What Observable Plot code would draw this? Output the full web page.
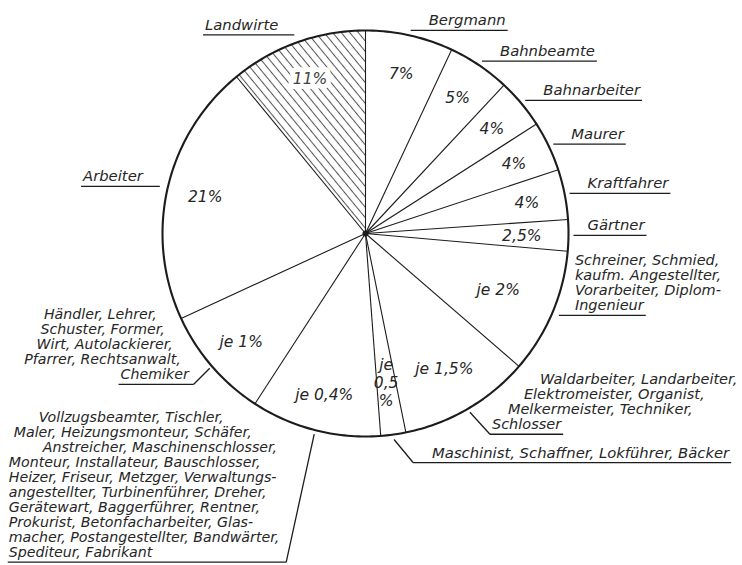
<!DOCTYPE html>
<html>
<head>
<meta charset="utf-8">
<script src="https://cdn.jsdelivr.net/npm/d3@7"></script>
<script src="https://cdn.jsdelivr.net/npm/@observablehq/plot@0.6"></script>
<style>
  html, body { margin: 0; padding: 0; background: #fff; }
  #chart svg { display: block; }
</style>
</head>
<body>
<div id="chart"></div>
<script>
// ---------------- data ----------------
// share (in %) per occupation; groups list several occupations with the same share ("je")
const sharePerPerson = [7, 5, 4, 4, 4, 2.5, 2, 1.5, 0.5, 0.4, 1, 21, 11];
const labelLines = [
  ["Bergmann"],
  ["Bahnbeamte"],
  ["Bahnarbeiter"],
  ["Maurer"],
  ["Kraftfahrer"],
  ["Gärtner"],
  ["Schreiner, Schmied,", "kaufm. Angestellter,", "Vorarbeiter, Diplom-", "Ingenieur"],
  ["Waldarbeiter, Landarbeiter,", "Elektromeister, Organist,", "Melkermeister, Techniker,", "Schlosser"],
  ["Maschinist, Schaffner, Lokführer, Bäcker"],
  ["Vollzugsbeamter, Tischler,", "Maler, Heizungsmonteur, Schäfer,", "Anstreicher, Maschinenschlosser,",
   "Monteur, Installateur, Bauschlosser,", "Heizer, Friseur, Metzger, Verwaltungs-",
   "angestellter, Turbinenführer, Dreher,", "Gerätewart, Baggerführer, Rentner,",
   "Prokurist, Betonfacharbeiter, Glas-", "macher, Postangestellter, Bandwärter,", "Spediteur, Fabrikant"],
  ["Händler, Lehrer,", "Schuster, Former,", "Wirt, Autolackierer,", "Pfarrer, Rechtsanwalt,", "Chemiker"],
  ["Arbeiter"],
  ["Landwirte"]
];
const hatchedCategories = ["Landwirte"];

// ---------------- layout (not data) ----------------
const W = 742, H = 565, CX = 365, CY = 233, R = 203;
const FONT = '"DejaVu Sans", "Liberation Sans", sans-serif';
const INK = "#1c1c1c";
const TXT = "#262626";
const LH = 15;
const callouts = [
  {side: "right", push: 5, pad: 18},
  {side: "right", push: 5, pad: 18},
  {side: "right", push: 5, pad: 18},
  {side: "right", push: 5, pad: 18},
  {side: "right", push: 5, pad: 18},
  {side: "right", push: 5, pad: 14},
  {side: "right", push: 7, pad: 16, fs: 14.5},
  {side: "right", push: 4, lead: [20, 22], pad: 2, stagger: 16, fs: 14.5},
  {side: "right", push: 5, lead: [19, 23], pad: 19, fs: 14.8},
  {side: "left", align: "start", push: 4, lead: [-28, 128], pad: 6, fs: 14.2, indent: [30, 5, 34]},
  {side: "left", push: 3, lead: [-16, 16], pad: 5, stagger: -8, fs: 14.2},
  {side: "left", push: 8, pad: 17},
  {side: "left", push: 8, pad: 16}
];
const innerRadius = [0.81, 0.81, 0.81, 0.81, 0.81, 0.77, 0.71, 0.77, 0.74, 0.82, 0.81, 0.81, 0.81];

// ---------------- derived ----------------
const joinLines = lines => lines.reduce((acc, l) => acc === "" ? l : (acc.endsWith("-") ? acc + l : acc + " " + l), "");
const members = labelLines.map(lines => joinLines(lines).split(",").map(s => s.trim()).filter(s => s.length));
const slices = sharePerPerson.map((each, i) => ({
  i, each, n: members[i].length, value: each * members[i].length,
  lines: labelLines[i], hatched: hatchedCategories.includes(labelLines[i][0])
}));
const arcs = d3.pie().sort(null).value(d => d.value)(slices);

const polar = (a, r) => [r * Math.sin(a), r * Math.cos(a)]; // px from centre, y up
const fmt = d3.formatLocale({decimal: ",", thousands: ".", grouping: [3], currency: ["", "€"]}).format("~g");

const ctx = document.createElement("canvas").getContext("2d");
const measure = (s, fs) => { ctx.font = `italic ${fs}px "DejaVu Sans"`; return ctx.measureText(s).width; };

// hatched sector polygon
const hatchPolys = [];
let hatchAngle = 45;
arcs.filter(a => a.data.hatched).forEach(a => {
  const steps = 60;
  hatchAngle = Math.atan2(-Math.cos(a.startAngle), Math.sin(a.startAngle)) * 180 / Math.PI;
  hatchPolys.push({x: 0, y: 0, k: a.data.i});
  for (let j = 0; j <= steps; j++) {
    const [x, y] = polar(a.startAngle + (a.endAngle - a.startAngle) * j / steps, R);
    hatchPolys.push({x, y, k: a.data.i});
  }
  hatchPolys.push({x: 0, y: 0, k: a.data.i});
});

// circle outline
const circlePts = d3.range(0, 361).map(deg => { const [x, y] = polar(deg * Math.PI / 180, R); return {x, y}; });

// callouts: leaders, underlines, texts
const segs = [], textStart = [], textEnd = [];
arcs.forEach((a, i) => {
  const c = callouts[i];
  const fs = c.fs ?? 14.8;
  const mid = (a.startAngle + a.endAngle) / 2;
  const [x0, y0] = polar(mid, R + c.push);
  const [lx, ly] = c.lead ?? [0, 0];
  const x1 = x0 + lx, y1 = y0 - ly;
  if (lx || ly) segs.push({x1: x0, y1: y0, x2: x1, y2: y1});
  const lines = a.data.lines, n = lines.length;
  const widths = lines.map(l => measure(l, fs));
  const last = widths[n - 1], maxW = d3.max(widths);
  const st = c.stagger ?? 0;
  const ind = c.indent ?? [];
  if (c.side === "right") {
    segs.push({x1, y1, x2: x1 + c.pad + last + 2, y2: y1});
    lines.forEach((l, j) => { const k = n - 1 - j; textStart.push({x: x1 + c.pad + st * k, y: y1 + 5 + LH * k, text: l, fs}); });
  } else if (c.align === "start") {
    const xs = x1 - c.pad - maxW - 2;
    segs.push({x1: xs, y1, x2: x1, y2: y1});
    lines.forEach((l, j) => { const k = n - 1 - j; textStart.push({x: xs + 1 + (ind[j] ?? 0), y: y1 + 5 + LH * k, text: l, fs}); });
  } else {
    segs.push({x1: x1 - c.pad - last - 2, y1, x2: x1, y2: y1});
    lines.forEach((l, j) => { const k = n - 1 - j; textEnd.push({x: x1 - c.pad + st * k, y: y1 + 5 + LH * k, text: l, fs}); });
  }
});

// inner percentage labels
const inner = arcs.map((a, i) => {
  const mid = (a.startAngle + a.endAngle) / 2;
  const [x, y] = polar(mid, R * innerRadius[i]);
  const d = a.data;
  let text = (d.n > 1 ? "je " : "") + fmt(d.each) + "%";
  if (a.endAngle - a.startAngle < 0.15) text = [d.n > 1 ? "je" : null, fmt(d.each), "%"].filter(Boolean).join("\n");
  return {x, y, text, hatched: d.hatched};
});

const svg = Plot.plot({
  width: W, height: H, margin: 0,
  x: {domain: [-CX, W - CX], range: [0, W], axis: null},
  y: {domain: [-(H - CY), CY], range: [H, 0], axis: null},
  style: {background: "#fff", color: INK, fontFamily: FONT},
  marks: [
    Plot.line(hatchPolys, {x: "x", y: "y", z: "k", fill: "url(#hatch)", stroke: "none", curve: "linear"}),
    Plot.link(arcs, {
      x1: 0, y1: 0,
      x2: d => polar(d.startAngle, R)[0], y2: d => polar(d.startAngle, R)[1],
      stroke: INK, strokeWidth: 1.1
    }),
    Plot.line(circlePts, {x: "x", y: "y", stroke: INK, strokeWidth: 2.1}),
    Plot.dot([{x: 0, y: 0}], {x: "x", y: "y", r: 3, fill: INK, stroke: "none"}),
    Plot.link(segs, {x1: "x1", y1: "y1", x2: "x2", y2: "y2", stroke: INK, strokeWidth: 1.3}),
    Plot.text(textStart, {x: "x", y: "y", text: "text", fontSize: d => d.fs, textAnchor: "start", lineAnchor: "bottom",
      fontStyle: "italic", fill: TXT, fontFamily: FONT}),
    Plot.text(textEnd, {x: "x", y: "y", text: "text", fontSize: d => d.fs, textAnchor: "end", lineAnchor: "bottom",
      fontStyle: "italic", fill: TXT, fontFamily: FONT}),
    Plot.text(inner.filter(d => !d.hatched), {x: "x", y: "y", text: "text", fontSize: 15.5, textAnchor: "middle",
      lineAnchor: "middle", lineHeight: 1.15, fontStyle: "italic", fill: TXT, fontFamily: FONT}),
    Plot.text(inner.filter(d => d.hatched), {x: "x", y: "y", text: "text", fontSize: 15.5, textAnchor: "middle",
      lineAnchor: "middle", fontStyle: "italic", fill: "#444", stroke: "#fff", strokeWidth: 10, fontFamily: FONT})
  ]
});

// hatch pattern definition: lines parallel to the sector's first edge
const defs = d3.select(svg).insert("defs", ":first-child");
const pat = defs.append("pattern").attr("id", "hatch").attr("patternUnits", "userSpaceOnUse")
  .attr("width", 20).attr("height", 6.6)
  .attr("patternTransform", `translate(${CX},${CY}) rotate(${hatchAngle})`);
pat.append("line").attr("x1", -1).attr("x2", 21).attr("y1", 3.3).attr("y2", 3.3)
  .attr("stroke", "#555").attr("stroke-width", 1.05);

document.getElementById("chart").appendChild(svg);
</script>
</body>
</html>
